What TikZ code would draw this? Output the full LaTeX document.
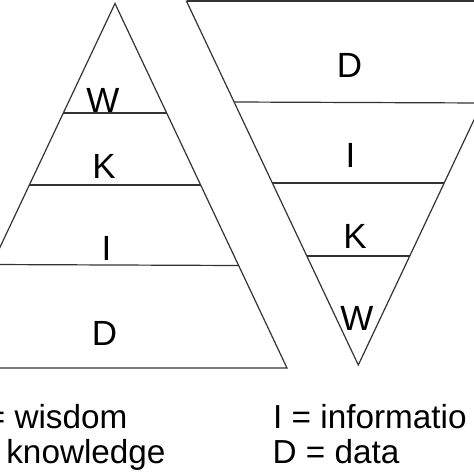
\documentclass[tikz,border=0pt]{standalone}
\usepackage{fontspec}
\setmainfont{Liberation Sans}
\begin{document}
\begin{tikzpicture}[x=1pt,y=-1pt,
  edge/.style={draw=black!80,line width=1.2pt,line join=miter},
  lvl/.style={inner sep=0pt,anchor=base,font=\fontsize{35}{35}\selectfont},
  legend/.style={inner sep=0pt,anchor=base west,font=\fontsize{33.3}{33.3}\selectfont}]
\useasboundingbox (0,0) rectangle (474,474);
\clip (0,0) rectangle (474,474);
% left pyramid
\draw[edge] (115,3.5) -- (287,368) -- (-57,368) -- cycle;
\draw[edge] (63.3,113) -- (166.7,113);
\draw[edge] (29.3,185) -- (200.7,185);
\draw[edge] (-8.4,264.5) -- (238.4,265.5);
\node[lvl] (lw) at (103,112) {W};
\node[lvl] (lk) at (104,178) {K};
\node[lvl] (li) at (106.5,260) {I};
\node[lvl] (ld) at (104.5,345) {D};
% right inverted pyramid
\draw[edge] (186.5,1.2) -- (530,1.2) -- (358.3,365) -- cycle;
\draw[edge,line width=2.2pt] (186.5,1.2) -- (530,1.2);
\draw[edge] (234.2,102) -- (482.4,103);
\draw[edge] (272.4,183) -- (444.2,183);
\draw[edge] (306.9,256) -- (409.7,256);
\node[lvl] (rd) at (349.5,77) {D};
\node[lvl] (ri) at (350.5,167) {I};
\node[lvl] (rk) at (355,248) {K};
\node[lvl] (rw) at (357,330) {W};
% legend
\node[legend] (gw) at (-55,428) {W = wisdom};
\node[legend] (gk) at (-54,463) {K = knowledge};
\node[legend] (gi) at (273,428) {I = informatio};
\node[legend] (gd) at (272.5,463) {D = data};
\end{tikzpicture}
\end{document}
